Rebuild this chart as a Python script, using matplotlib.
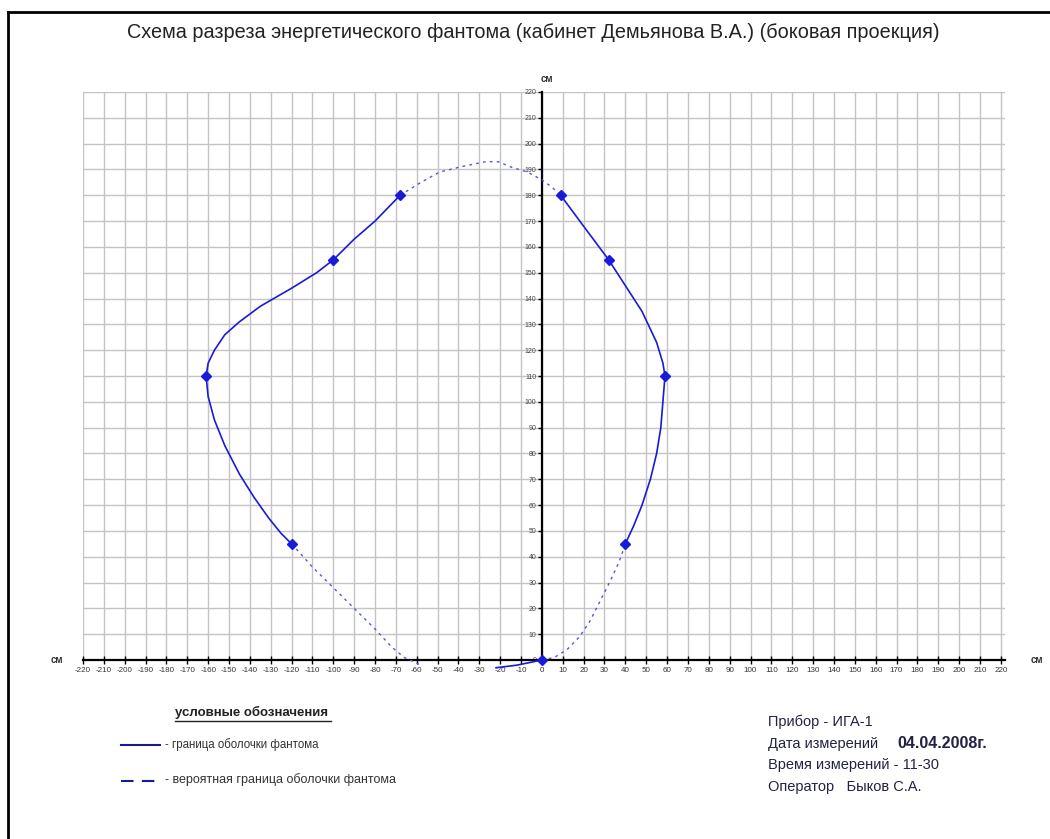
import matplotlib
matplotlib.use("Agg")
import matplotlib.pyplot as plt
from matplotlib.lines import Line2D

plt.rcParams['font.family'] = ['Liberation Sans', 'DejaVu Sans']

# measured points (cm)
point_x = [-68, -100, -161, -120, 0, 40, 59, 32, 9]
point_y = [180, 155, 110, 45, 0, 45, 110, 155, 180]

# solid border, left side
left_x = [-68, -80, -90, -100, -108, -120, -135, -145, -152, -157, -160, -161,
          -160, -157, -152, -145, -138, -131, -125, -120]
left_y = [180, 170, 163, 155, 150, 144, 137, 131, 126, 120, 115, 110,
          102, 93, 83, 72, 63, 55, 49, 45]
# solid border, right side
right_x = [9, 20, 32, 40, 48, 55, 58, 59, 58, 57, 55, 52, 48, 44, 40]
right_y = [180, 168, 155, 145, 135, 123, 115, 110, 100, 90, 80, 70, 60, 52, 45]
# short solid piece near zero
low_x = [-22, -12, -6, 0]
low_y = [-3, -2, -1, 0]

# probable border (dashed)
top_x = [-68, -58, -49, -39, -33, -27, -21, -15, -7, 0, 5, 9]
top_y = [180, 185, 189, 191, 192, 193, 193, 191, 189, 186, 183, 180]
botl_x = [-120, -110, -100, -90, -80, -72, -66, -58]
botl_y = [45, 36, 28, 20, 12, 5, 1, -2]
botr_x = [0, 6, 12, 18, 23, 28, 33, 37, 40]
botr_y = [0, 1, 4, 9, 15, 23, 31, 38, 45]

x_ticks = list(range(-220, 230, 10))
y_ticks = list(range(0, 230, 10))

title = "Схема разреза энергетического фантома (кабинет Демьянова В.А.) (боковая проекция)"

W, H = 1050, 839
fig = plt.figure(figsize=(W / 100, H / 100), dpi=100)


def fx(px):
    return px / W


def fy(py):
    return 1 - py / H


ax = fig.add_axes([fx(83), fy(660), fx(1005) - fx(83), fy(92) - fy(660)])
ax.set_xlim(-220, 222)
ax.set_ylim(0, 220)

blue = '#1a1ad8'
ax.plot(left_x, left_y, color=blue, lw=1.2, clip_on=False, zorder=4)
ax.plot(right_x, right_y, color=blue, lw=1.2, clip_on=False, zorder=4)
ax.plot(low_x, low_y, color=blue, lw=1.2, clip_on=False, zorder=4)
for xs, ys in [(top_x, top_y), (botl_x, botl_y), (botr_x, botr_y)]:
    ax.plot(xs, ys, color='#5555e0', lw=1.0, dashes=(2, 3), clip_on=False, zorder=4)
ax.plot(point_x, point_y, 'D', color=blue, ms=5, clip_on=False, zorder=5)

# grid
for v in x_ticks:
    ax.axvline(v, color='#c4c4c4', lw=1, zorder=1)
for v in y_ticks:
    ax.axhline(v, color='#c4c4c4', lw=1, zorder=1)

for s in ['top', 'right']:
    ax.spines[s].set_visible(False)
ax.spines['left'].set_position(('data', 0))
ax.spines['left'].set_linewidth(1.6)
ax.spines['bottom'].set_linewidth(1.6)
ax.spines['left'].set_zorder(3)
ax.spines['bottom'].set_zorder(3)

ax.set_xticks(x_ticks)
ax.set_xticklabels([str(v) for v in x_ticks], fontsize=5.8, color='#333333')
ax.set_yticks(y_ticks)
ax.set_yticklabels([str(v) for v in y_ticks], fontsize=5, color='#444444')
ax.tick_params(axis='x', direction='inout', length=6, width=1, pad=2)
ax.tick_params(axis='y', direction='out', length=3, width=1, pad=1)

# "см" labels
fig.text(fx(547), fy(79), "см", fontsize=7, fontweight='bold', ha='center', va='center', color='#333333')
fig.text(fx(57), fy(660), "см", fontsize=7, fontweight='bold', ha='center', va='center', color='#333333')
fig.text(fx(1037), fy(660), "см", fontsize=7, fontweight='bold', ha='center', va='center', color='#333333')

fig.text(fx(533), fy(32), title, fontsize=14.3, ha='center', va='center', color='#222222')

# legend
fig.text(fx(175), fy(712), "условные обозначения", fontsize=9.5, fontweight='bold',
         ha='left', va='center', color='#222222')
fig.add_artist(Line2D([fx(175), fx(331)], [fy(721), fy(721)], color='#222222', lw=1))
fig.add_artist(Line2D([fx(121), fx(160)], [fy(745), fy(745)], color='#1a1a90', lw=1.5))
fig.add_artist(Line2D([fx(121), fx(161)], [fy(781), fy(781)], color='#1a1a90', lw=1.5,
                      dashes=(6, 4)))
fig.text(fx(165), fy(745), "- граница оболочки фантома", fontsize=8.3, ha='left', va='center',
         color='#333333')
fig.text(fx(165), fy(780), "- вероятная граница оболочки фантома", fontsize=9, ha='left',
         va='center', color='#333333')

# measurement info
info_kw = dict(fontsize=10.5, ha='left', va='center', color='#222244')
fig.text(fx(768), fy(722), "Прибор - ИГА-1", **info_kw)
fig.text(fx(768), fy(744), "Дата измерений", **info_kw)
fig.text(fx(897), fy(744), "04.04.2008г.", fontweight='bold', fontsize=11.5,
         ha='left', va='center', color='#222244')
fig.text(fx(768), fy(765), "Время измерений - 11-30", **info_kw)
fig.text(fx(768), fy(787), "Оператор   Быков С.А.", **info_kw)

# page frame
fig.add_artist(Line2D([fx(8), fx(1050)], [fy(12), fy(12)], color='black', lw=2))
fig.add_artist(Line2D([fx(8), fx(8)], [fy(12), fy(839)], color='black', lw=2))

fig.savefig("out.png", dpi=100)
